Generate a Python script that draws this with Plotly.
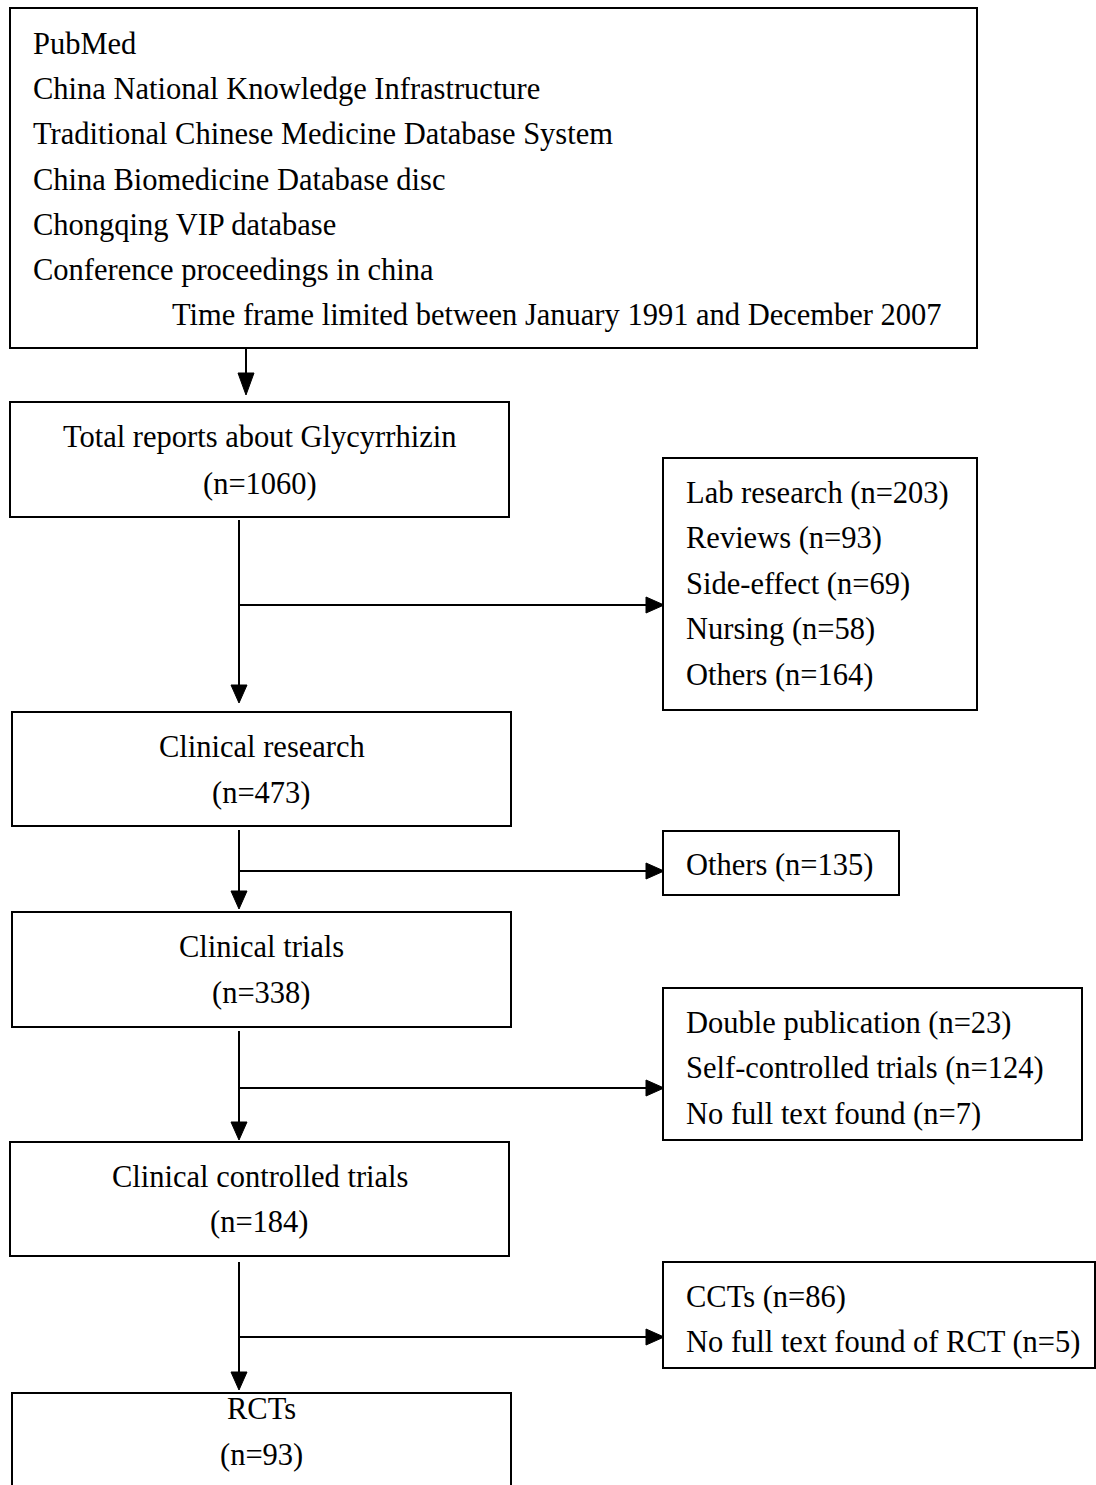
import plotly.graph_objects as go

# ---- data ----
sources = ["PubMed", "China National Knowledge Infrastructure",
           "Traditional Chinese Medicine Database System", "China Biomedicine Database disc",
           "Chongqing VIP database", "Conference proceedings in china"]
time_frame = "Time frame limited between January 1991 and December 2007"

stage_labels = ["Total reports about Glycyrrhizin", "Clinical research", "Clinical trials",
                "Clinical controlled trials", "RCTs"]
stage_counts = [1060, 473, 338, 184, 93]

excl_labels = [
    ["Lab research", "Reviews", "Side-effect", "Nursing", "Others"],
    ["Others"],
    ["Double publication", "Self-controlled trials", "No full text found"],
    ["CCTs", "No full text found of RCT"],
]
excl_counts = [
    [203, 93, 69, 58, 164],
    [135],
    [23, 124, 7],
    [86, 5],
]

# ---- layout geometry (pixels) ----
W, H = 1096, 1485
FONT = dict(family="Liberation Serif, Times New Roman, serif", size=30.5, color="black")
LW = 2

main_boxes = [(10, 402, 509, 517), (12, 712, 511, 826), (12, 912, 511, 1027),
              (10, 1142, 509, 1256), (12, 1393, 511, 1500)]
main_text_y = [(437, 484), (747, 793), (947, 993), (1177, 1222), (1409, 1455)]
right_boxes = [(663, 458, 977, 710), (663, 831, 899, 895), (663, 988, 1082, 1140),
               (663, 1262, 1095, 1368)]
right_first_y = [493, 865, 1023, 1297]
branch_y = [605, 871, 1088, 1337]
vline_x = 239
vline_top = [520, 830, 1031, 1262]
vline_tip = [703, 909, 1140, 1390]

fig = go.Figure()
shapes, annots = [], []

def rect(x0, y0, x1, y1):
    shapes.append(dict(type="rect", x0=x0, y0=y0, x1=x1, y1=y1, xref="x", yref="y",
                       line=dict(color="black", width=LW), fillcolor="rgba(0,0,0,0)"))

def line(x0, y0, x1, y1):
    shapes.append(dict(type="line", x0=x0, y0=y0, x1=x1, y1=y1, xref="x", yref="y",
                       line=dict(color="black", width=LW)))

def down_head(x, ytip, L=18, hw=8):
    shapes.append(dict(type="path", path=f"M {x-hw},{ytip-L} L {x+hw},{ytip-L} L {x},{ytip} Z",
                       xref="x", yref="y", fillcolor="black", line=dict(color="black", width=1)))

def right_head(xtip, y, L=18, hw=8):
    shapes.append(dict(type="path", path=f"M {xtip-L},{y-hw} L {xtip-L},{y+hw} L {xtip},{y} Z",
                       xref="x", yref="y", fillcolor="black", line=dict(color="black", width=1)))

def text(x, y, s, anchor="left"):
    annots.append(dict(x=x, y=y, xref="x", yref="y", text=s, showarrow=False,
                       xanchor=anchor, yanchor="middle", font=FONT))

# top box
rect(10, 8, 977, 348)
for i, s in enumerate(sources):
    text(31, 44 + i * 45.2, s)
text(170, 315, time_frame)
line(246, 348, 246, 380)
down_head(246, 395, L=22)

# main boxes
for (x0, y0, x1, y1), (ty1, ty2), lab, n in zip(main_boxes, main_text_y, stage_labels, stage_counts):
    rect(x0, y0, x1, y1)
    cx = (x0 + x1) / 2
    text(cx, ty1, lab, "center")
    text(cx, ty2, f"(n={n})", "center")

# exclusion boxes and connectors
for i in range(4):
    x0, y0, x1, y1 = right_boxes[i]
    rect(x0, y0, x1, y1)
    for j, (lab, n) in enumerate(zip(excl_labels[i], excl_counts[i])):
        text(684, right_first_y[i] + j * 45.4, f"{lab} (n={n})")
    line(vline_x, vline_top[i], vline_x, vline_tip[i] - 10)
    down_head(vline_x, vline_tip[i])
    line(vline_x, branch_y[i], 652, branch_y[i])
    right_head(664, branch_y[i])

fig.update_layout(
    width=W, height=H, margin=dict(l=0, r=0, t=0, b=0),
    paper_bgcolor="white", plot_bgcolor="white",
    xaxis=dict(range=[0, W], visible=False, fixedrange=True),
    yaxis=dict(range=[H, 0], visible=False, fixedrange=True),
    shapes=shapes, annotations=annots, showlegend=False,
)
fig.write_html("out.html", config=dict(displayModeBar=False),
               post_script="document.body.style.margin='0';document.body.style.overflow='hidden';")
